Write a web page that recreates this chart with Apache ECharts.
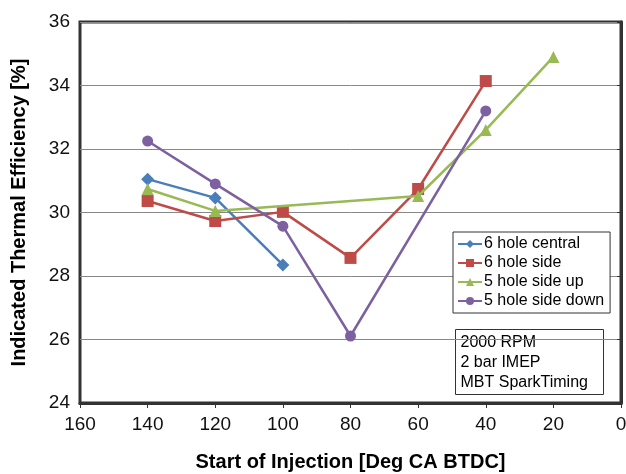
<!DOCTYPE html>
<html><head><meta charset="utf-8">
<script src="https://cdn.jsdelivr.net/npm/echarts@6/dist/echarts.min.js"></script>
<style>html,body{margin:0;padding:0;background:#fff}#c{width:626px;height:474px}</style>
</head><body><div id="c"></div>
<script>
const seriesNames = ['6 hole central', '6 hole side', '5 hole side up', '5 hole side down'];
const soi6Central = [140, 120, 100];
const eff6Central = [31.05, 30.46, 28.35];
const soi6Side = [140, 120, 100, 80, 60, 40];
const eff6Side = [30.36, 29.73, 30.02, 28.57, 30.74, 34.14];
const soi5Up = [140, 120, 60, 40, 20];
const eff5Up = [30.74, 30.05, 30.52, 32.6, 34.9];
const soi5Down = [140, 120, 100, 80, 40];
const eff5Down = [32.25, 30.9, 29.57, 26.11, 33.2];
const noteLines = ['2000 RPM', '2 bar IMEP', 'MBT SparkTiming'];

const colors = ['#4a7ebb', '#be4b48', '#98b954', '#7d60a0'];
const symbols = ['diamond', 'rect', 'triangle', 'circle'];
const sizes = [13, 12, 12, 11];
const xs = [soi6Central, soi6Side, soi5Up, soi5Down];
const ys = [eff6Central, eff6Side, eff5Up, eff5Down];
const narrow = '"Liberation Sans Narrow", "Arial Narrow", "Liberation Sans", Arial, sans-serif';

const chart = echarts.init(document.getElementById('c'), null, {renderer: 'canvas'});
chart.setOption({
  animation: false,
  grid: {left: 80, right: 5, top: 22, bottom: 71, show: true, borderColor: '#333', borderWidth: 3, backgroundColor: 'transparent', outerBoundsMode: 'none', containLabel: false},
  xAxis: {
    type: 'value', min: 0, max: 160, interval: 20, inverse: true,
    name: 'Start of Injection [Deg CA BTDC]', nameLocation: 'middle', nameGap: 49,
    nameTextStyle: {fontFamily: 'Liberation Sans, Arial, sans-serif', fontWeight: 'bold', fontSize: 20, color: '#000'},
    axisLine: {show: true, lineStyle: {color: '#333', width: 3}},
    axisTick: {show: true, length: 5, lineStyle: {color: '#333', width: 1}},
    axisLabel: {fontFamily: narrow, fontSize: 19, color: '#111', margin: 12},
    splitLine: {show: false}
  },
  yAxis: {
    type: 'value', min: 24, max: 36, interval: 2,
    name: 'Indicated Thermal Efficiency [%]', nameLocation: 'middle', nameGap: 51,
    nameTextStyle: {fontFamily: 'Liberation Sans, Arial, sans-serif', fontWeight: 'bold', fontSize: 20, color: '#000'},
    axisLine: {show: true, lineStyle: {color: '#333', width: 3}},
    axisTick: {show: true, length: 4, lineStyle: {color: '#333', width: 1}},
    axisLabel: {fontFamily: narrow, fontSize: 19, color: '#111', margin: 10},
    splitLine: {show: true, lineStyle: {color: '#888', width: 1}}
  },
  legend: {
    orient: 'vertical', left: 453, top: 232,
    backgroundColor: '#fff', borderColor: '#333', borderWidth: 1, borderRadius: 0,
    padding: [4, 6, 4, 4], itemGap: 3, itemWidth: 24, itemHeight: 10,
    textStyle: {fontFamily: narrow, fontSize: 16, color: '#000', padding: [0, 0, 0, -3]},
    data: seriesNames
  },
  graphic: [{
    type: 'group', left: 455, top: 329,
    children: [
      {type: 'rect', shape: {x: 0, y: 0, width: 148, height: 65}, style: {fill: '#fff', stroke: '#333', lineWidth: 1}},
      {type: 'text', x: 5, y: 3, style: {text: noteLines.join('\n'), font: '16px ' + narrow, lineHeight: 20, fill: '#000'}}
    ]
  }],
  series: seriesNames.map((n, i) => ({
    name: n, type: 'line',
    data: xs[i].map((x, j) => [x, ys[i][j]]),
    symbol: symbols[i], symbolSize: sizes[i], showAllSymbol: true,
    lineStyle: {color: colors[i], width: 2.5},
    itemStyle: {color: colors[i]},
    z: 3 + i
  }))
});
</script></body></html>
